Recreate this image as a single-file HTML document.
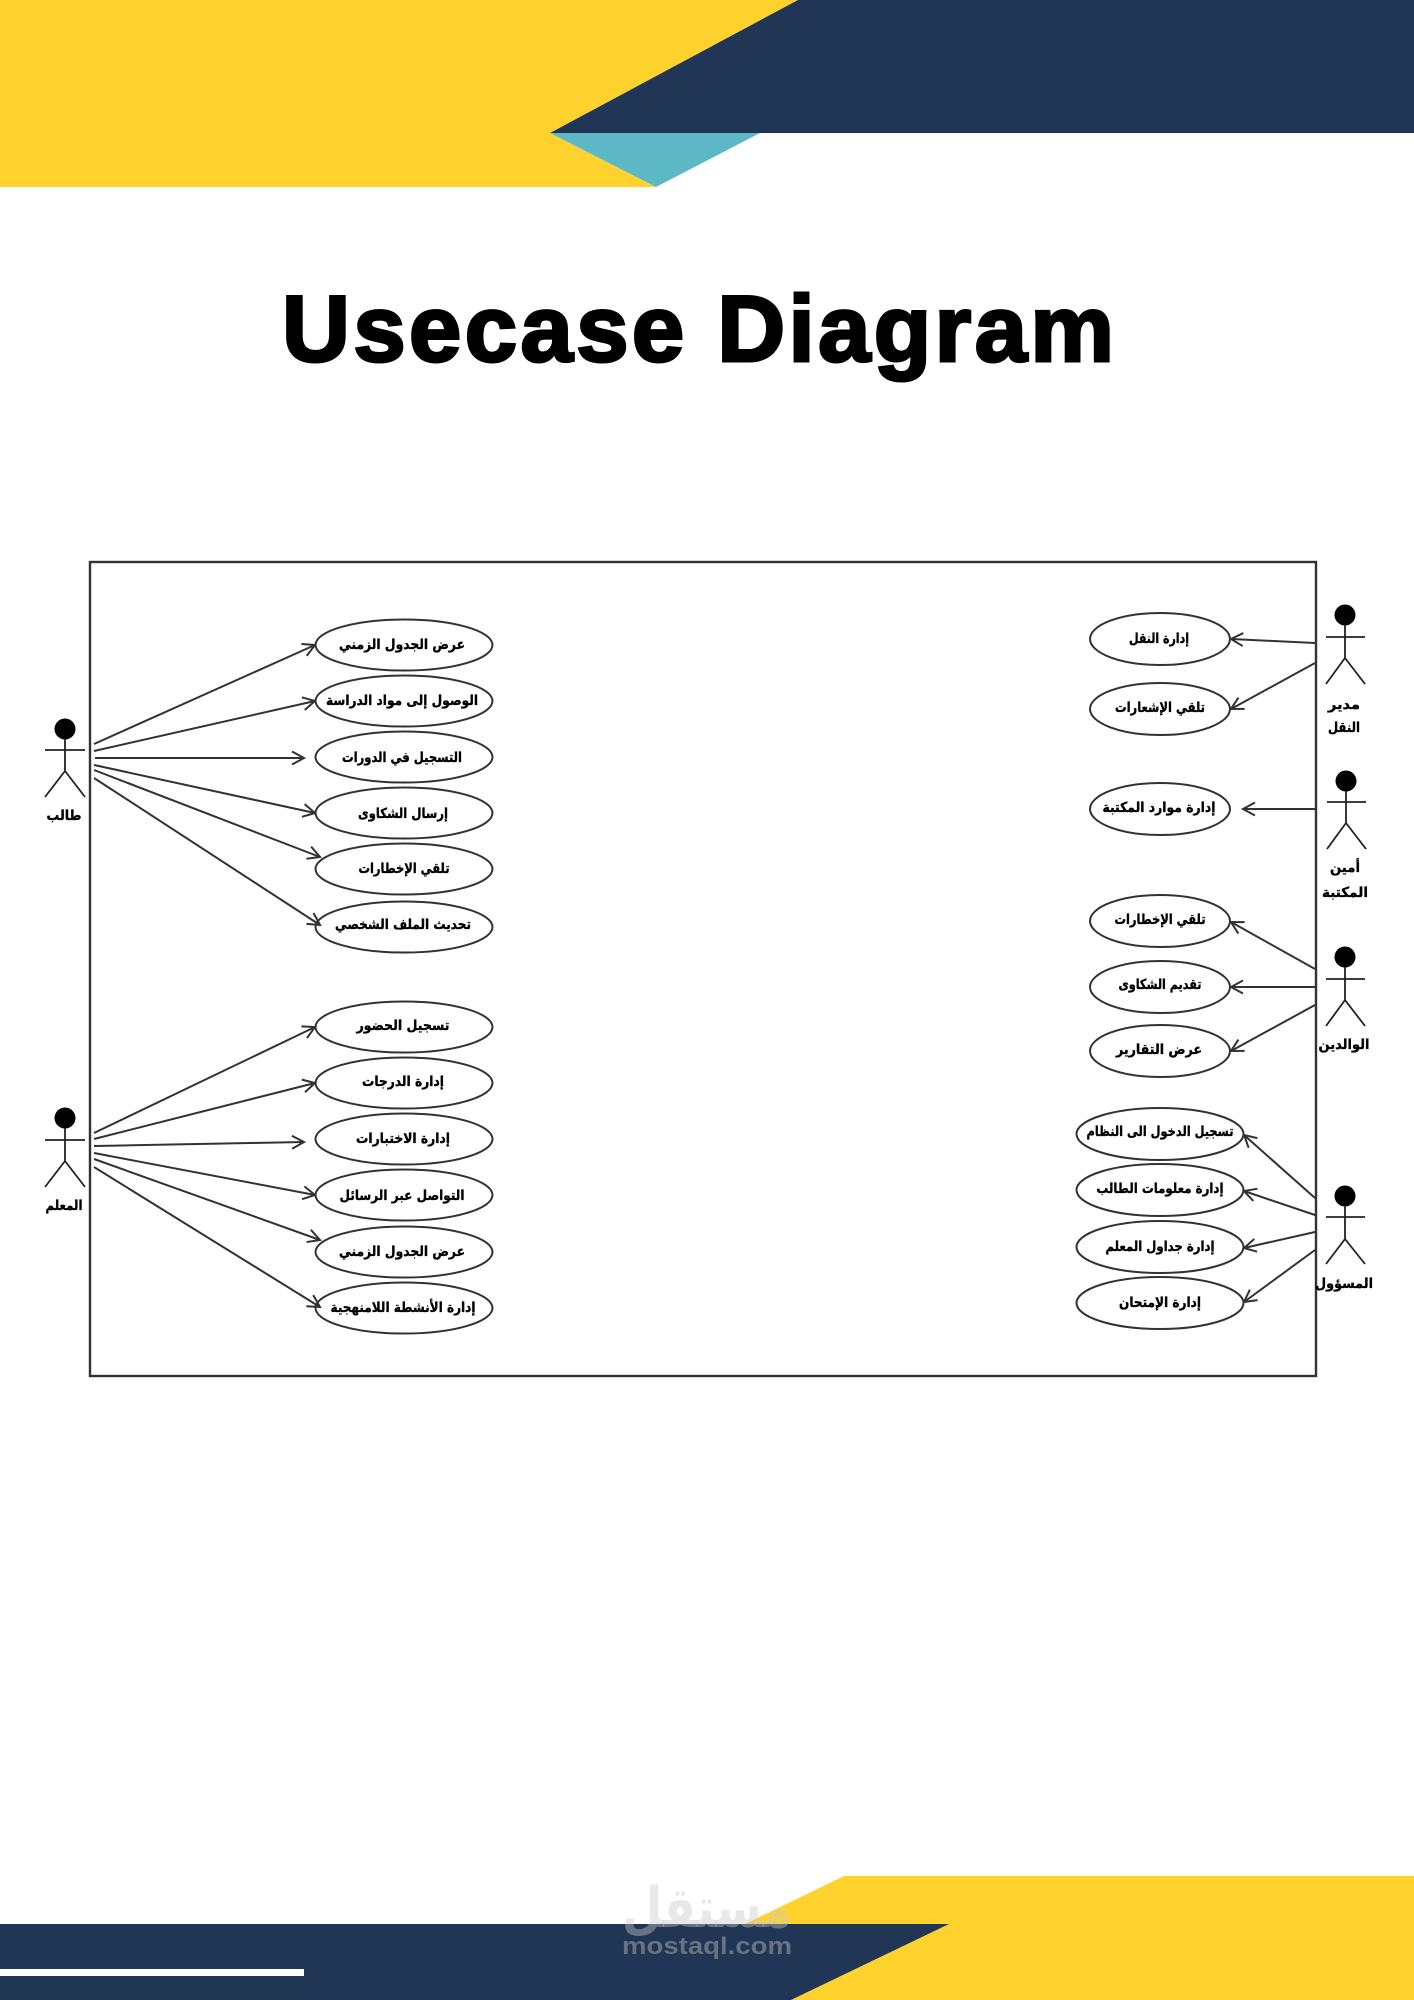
<!DOCTYPE html>
<html lang="en"><head><meta charset="utf-8"><title>Usecase Diagram</title>
<style>
html,body{margin:0;padding:0;background:#fff}
svg{display:block}
.ar{font-family:"DejaVu Sans",sans-serif;font-weight:bold;font-size:14px;fill:#000;stroke:#000;stroke-width:.35;text-anchor:middle;direction:rtl}
.e{fill:#fff;stroke:#333;stroke-width:2}
.l{stroke:#333;stroke-width:2;fill:none;marker-end:url(#a)}
.s{stroke:#222;stroke-width:1.8;fill:none}
</style></head><body>
<svg width="1414" height="2000" viewBox="0 0 1414 2000" xmlns="http://www.w3.org/2000/svg">
<defs>
<marker id="a" markerUnits="userSpaceOnUse" markerWidth="30" markerHeight="30" refX="15" refY="15" orient="auto" overflow="visible">
<path d="M3,8.5 L15,15 L3,21.5" fill="none" stroke="#333" stroke-width="2"/>
</marker>
<filter id="b" x="-2%" y="-2%" width="104%" height="104%"><feGaussianBlur stdDeviation="0.35"/></filter>
</defs>
<rect width="1414" height="2000" fill="#fff"/>
<!-- top banner -->
<polygon points="0,0 798,0 550,133 656,187 0,187" fill="#FFD22E"/>
<polygon points="798,0 1414,0 1414,133 550,133" fill="#203654"/>
<polygon points="550,133 760,133 656,187" fill="#5BB8C4"/>
<!-- title -->
<text x="282" y="361" font-family="'Liberation Sans',sans-serif" font-weight="bold" font-size="94" textLength="832" lengthAdjust="spacing" fill="#000" stroke="#000" stroke-width="3">Usecase Diagram</text>
<!-- bottom banner -->
<polygon points="844,1876 1414,1876 1414,2000 791,2000 949,1924 745,1924" fill="#FFD22E"/>
<polygon points="0,1924 949,1924 791,2000 0,2000" fill="#203654"/>
<rect x="0" y="1969" width="304" height="7" fill="#fff"/>

<g filter="url(#b)">
<rect x="90" y="562" width="1226" height="814" fill="#fff" stroke="#333" stroke-width="2.4"/>

<!-- left use cases -->
<ellipse class="e" cx="404" cy="645" rx="88.5" ry="25.5"/>
<ellipse class="e" cx="404" cy="701" rx="88.5" ry="25.5"/>
<ellipse class="e" cx="404" cy="757" rx="88.5" ry="25.5"/>
<ellipse class="e" cx="404" cy="813" rx="88.5" ry="25.5"/>
<ellipse class="e" cx="404" cy="869" rx="88.5" ry="25.5"/>
<ellipse class="e" cx="404" cy="927" rx="88.5" ry="25.5"/>
<ellipse class="e" cx="404" cy="1027" rx="88.5" ry="25.5"/>
<ellipse class="e" cx="404" cy="1083" rx="88.5" ry="25.5"/>
<ellipse class="e" cx="404" cy="1139" rx="88.5" ry="25.5"/>
<ellipse class="e" cx="404" cy="1195" rx="88.5" ry="25.5"/>
<ellipse class="e" cx="404" cy="1252" rx="88.5" ry="25.5"/>
<ellipse class="e" cx="404" cy="1308" rx="88.5" ry="25.5"/>

<!-- right use cases -->
<ellipse class="e" cx="1160" cy="639" rx="70" ry="26"/>
<ellipse class="e" cx="1160" cy="709" rx="70" ry="26"/>
<ellipse class="e" cx="1160" cy="809" rx="70" ry="26"/>
<ellipse class="e" cx="1160" cy="921" rx="70" ry="26"/>
<ellipse class="e" cx="1160" cy="987" rx="70" ry="26"/>
<ellipse class="e" cx="1160" cy="1051" rx="70" ry="26"/>
<ellipse class="e" cx="1160" cy="1134" rx="83.5" ry="26"/>
<ellipse class="e" cx="1160" cy="1190" rx="83.5" ry="26"/>
<ellipse class="e" cx="1160" cy="1247" rx="83.5" ry="26"/>
<ellipse class="e" cx="1160" cy="1303" rx="83.5" ry="26"/>

<!-- connectors left -->
<line class="l" x1="94" y1="744" x2="315" y2="645"/>
<line class="l" x1="94" y1="751" x2="315" y2="701"/>
<line class="l" x1="95" y1="758" x2="304" y2="758"/>
<line class="l" x1="94" y1="765" x2="315" y2="813"/>
<line class="l" x1="94" y1="770" x2="320" y2="857"/>
<line class="l" x1="94" y1="778" x2="320" y2="925"/>
<line class="l" x1="94" y1="1133" x2="315" y2="1027"/>
<line class="l" x1="94" y1="1139" x2="315" y2="1083"/>
<line class="l" x1="94" y1="1146" x2="304" y2="1142"/>
<line class="l" x1="94" y1="1153" x2="315" y2="1195"/>
<line class="l" x1="94" y1="1159" x2="320" y2="1240"/>
<line class="l" x1="94" y1="1167" x2="320" y2="1307"/>

<!-- connectors right -->
<line class="l" x1="1315" y1="643" x2="1231" y2="639"/>
<line class="l" x1="1315" y1="663" x2="1231" y2="709"/>
<line class="l" x1="1316" y1="809" x2="1243" y2="809"/>
<line class="l" x1="1315" y1="969" x2="1231" y2="922"/>
<line class="l" x1="1315" y1="987" x2="1231" y2="987"/>
<line class="l" x1="1315" y1="1005" x2="1231" y2="1051"/>
<line class="l" x1="1315" y1="1198" x2="1244" y2="1135"/>
<line class="l" x1="1315" y1="1215" x2="1244" y2="1191"/>
<line class="l" x1="1315" y1="1232" x2="1244" y2="1248"/>
<line class="l" x1="1315" y1="1250" x2="1244" y2="1302"/>

<!-- actors -->
<circle cx="65" cy="729" r="10.5" fill="#000"/>
<path class="s" d="M45,750H85M65,739V771M65,771L45,797M65,771L85,797"/>
<circle cx="65" cy="1118" r="10.5" fill="#000"/>
<path class="s" d="M45,1140H85M65,1128V1161M65,1161L45,1187M65,1161L85,1187"/>
<circle cx="1345" cy="615" r="10.5" fill="#000"/>
<path class="s" d="M1326,637H1365M1345,625V658M1345,658L1326,684M1345,658L1365,684"/>
<circle cx="1346" cy="781" r="10.5" fill="#000"/>
<path class="s" d="M1327,802H1366M1346,791V823M1346,823L1327,849M1346,823L1366,849"/>
<circle cx="1345" cy="957" r="10.5" fill="#000"/>
<path class="s" d="M1326,979H1365M1345,967V1000M1345,1000L1326,1026M1345,1000L1365,1026"/>
<circle cx="1345" cy="1196" r="10.5" fill="#000"/>
<path class="s" d="M1326,1217H1365M1345,1206V1239M1345,1239L1326,1264M1345,1239L1365,1264"/>

<!-- left labels -->
<text class="ar" x="402" y="649" textLength="126" lengthAdjust="spacingAndGlyphs">عرض الجدول الزمني</text>
<text class="ar" x="402" y="705" textLength="152" lengthAdjust="spacingAndGlyphs">الوصول إلى مواد الدراسة</text>
<text class="ar" x="402" y="762" textLength="120" lengthAdjust="spacingAndGlyphs">التسجيل في الدورات</text>
<text class="ar" x="403" y="818" textLength="90" lengthAdjust="spacingAndGlyphs">إرسال الشكاوى</text>
<text class="ar" x="404" y="873" textLength="91" lengthAdjust="spacingAndGlyphs">تلقي الإخطارات</text>
<text class="ar" x="403" y="929" textLength="136" lengthAdjust="spacingAndGlyphs">تحديث الملف الشخصي</text>
<text class="ar" x="403" y="1030" textLength="93" lengthAdjust="spacingAndGlyphs">تسجيل الحضور</text>
<text class="ar" x="403" y="1086" textLength="82" lengthAdjust="spacingAndGlyphs">إدارة الدرجات</text>
<text class="ar" x="403" y="1143" textLength="94" lengthAdjust="spacingAndGlyphs">إدارة الاختبارات</text>
<text class="ar" x="402" y="1200" textLength="125" lengthAdjust="spacingAndGlyphs">التواصل عبر الرسائل</text>
<text class="ar" x="402" y="1256" textLength="126" lengthAdjust="spacingAndGlyphs">عرض الجدول الزمني</text>
<text class="ar" x="403" y="1312" textLength="145" lengthAdjust="spacingAndGlyphs">إدارة الأنشطة اللامنهجية</text>

<!-- right labels -->
<text class="ar" x="1159" y="643" textLength="60" lengthAdjust="spacingAndGlyphs">إدارة النقل</text>
<text class="ar" x="1160" y="712" textLength="90" lengthAdjust="spacingAndGlyphs">تلقي الإشعارات</text>
<text class="ar" x="1159" y="812" textLength="113" lengthAdjust="spacingAndGlyphs">إدارة موارد المكتبة</text>
<text class="ar" x="1160" y="924" textLength="91" lengthAdjust="spacingAndGlyphs">تلقي الإخطارات</text>
<text class="ar" x="1160" y="989" textLength="83" lengthAdjust="spacingAndGlyphs">تقديم الشكاوى</text>
<text class="ar" x="1159" y="1054" textLength="86" lengthAdjust="spacingAndGlyphs">عرض التقارير</text>
<text class="ar" x="1160" y="1136" textLength="147" lengthAdjust="spacingAndGlyphs">تسجيل الدخول الى النظام</text>
<text class="ar" x="1160" y="1193" textLength="127" lengthAdjust="spacingAndGlyphs">إدارة معلومات الطالب</text>
<text class="ar" x="1160" y="1251" textLength="109" lengthAdjust="spacingAndGlyphs">إدارة جداول المعلم</text>
<text class="ar" x="1160" y="1307" textLength="82" lengthAdjust="spacingAndGlyphs">إدارة الإمتحان</text>

<!-- actor labels -->
<text class="ar" x="64" y="820" textLength="35" lengthAdjust="spacingAndGlyphs">طالب</text>
<text class="ar" x="64" y="1210" textLength="37" lengthAdjust="spacingAndGlyphs">المعلم</text>
<text class="ar" x="1344" y="709" textLength="32" lengthAdjust="spacingAndGlyphs">مدير</text>
<text class="ar" x="1344" y="732" textLength="32" lengthAdjust="spacingAndGlyphs">النقل</text>
<text class="ar" x="1345" y="872" textLength="30" lengthAdjust="spacingAndGlyphs">أمين</text>
<text class="ar" x="1345" y="897" textLength="46" lengthAdjust="spacingAndGlyphs">المكتبة</text>
<text class="ar" x="1344" y="1049" textLength="51" lengthAdjust="spacingAndGlyphs">الوالدين</text>
<text class="ar" x="1344" y="1288" textLength="58" lengthAdjust="spacingAndGlyphs">المسؤول</text>
</g>

<!-- watermark -->
<text x="707" y="1927" font-family="'DejaVu Sans',sans-serif" font-weight="bold" font-size="56" text-anchor="middle" direction="rtl" textLength="170" lengthAdjust="spacingAndGlyphs" fill="rgba(200,200,200,.42)">مستقل</text>
<text x="622" y="1954" font-family="'Liberation Sans',sans-serif" font-weight="bold" font-size="24" textLength="170" lengthAdjust="spacingAndGlyphs" fill="rgba(200,200,200,.42)">mostaql.com</text>
</svg>
</body></html>
